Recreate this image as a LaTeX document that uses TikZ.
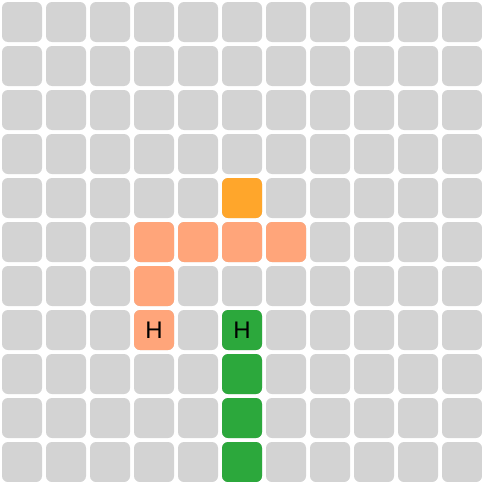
\documentclass[tikz,border=0pt]{standalone}
\usepackage{fontspec}
\setmainfont{Liberation Sans}
\definecolor{cellgray}{HTML}{D3D3D3}
\definecolor{cellorange}{HTML}{FFA62B}
\definecolor{cellsalmon}{HTML}{FFA57A}
\definecolor{cellgreen}{HTML}{2CA83C}
\begin{document}
\begin{tikzpicture}[x=1pt,y=-1pt,
  cell/.style={minimum size=40pt,inner sep=0pt,rounded corners=6pt,fill=cellgray,draw=none,font=\fontsize{24}{24}\selectfont,text=black},
  orangecell/.style={cell,fill=cellorange},
  salmoncell/.style={cell,fill=cellsalmon},
  greencell/.style={cell,fill=cellgreen}]
\useasboundingbox (0,0) rectangle (482,482);
\foreach \i in {0,...,10}{
  \foreach \j in {0,...,10}{
    \node[cell] (c-\i-\j) at ({22+44*\i},{22+44*\j}) {};
  }
}
\node[orangecell] (o1) at ({22+44*5},{22+44*4}) {};
\foreach \i in {3,4,5,6}{
  \node[salmoncell] (s-\i-5) at ({22+44*\i},{22+44*5}) {};
}
\node[salmoncell] (s-3-6) at ({22+44*3},{22+44*6}) {};
\node[salmoncell] (s-3-7) at ({22+44*3},{22+44*7}) {H};
\node[greencell] (g-5-7) at ({22+44*5},{22+44*7}) {H};
\foreach \j in {8,9,10}{
  \node[greencell] (g-5-\j) at ({22+44*5},{22+44*\j}) {};
}
\end{tikzpicture}
\end{document}
